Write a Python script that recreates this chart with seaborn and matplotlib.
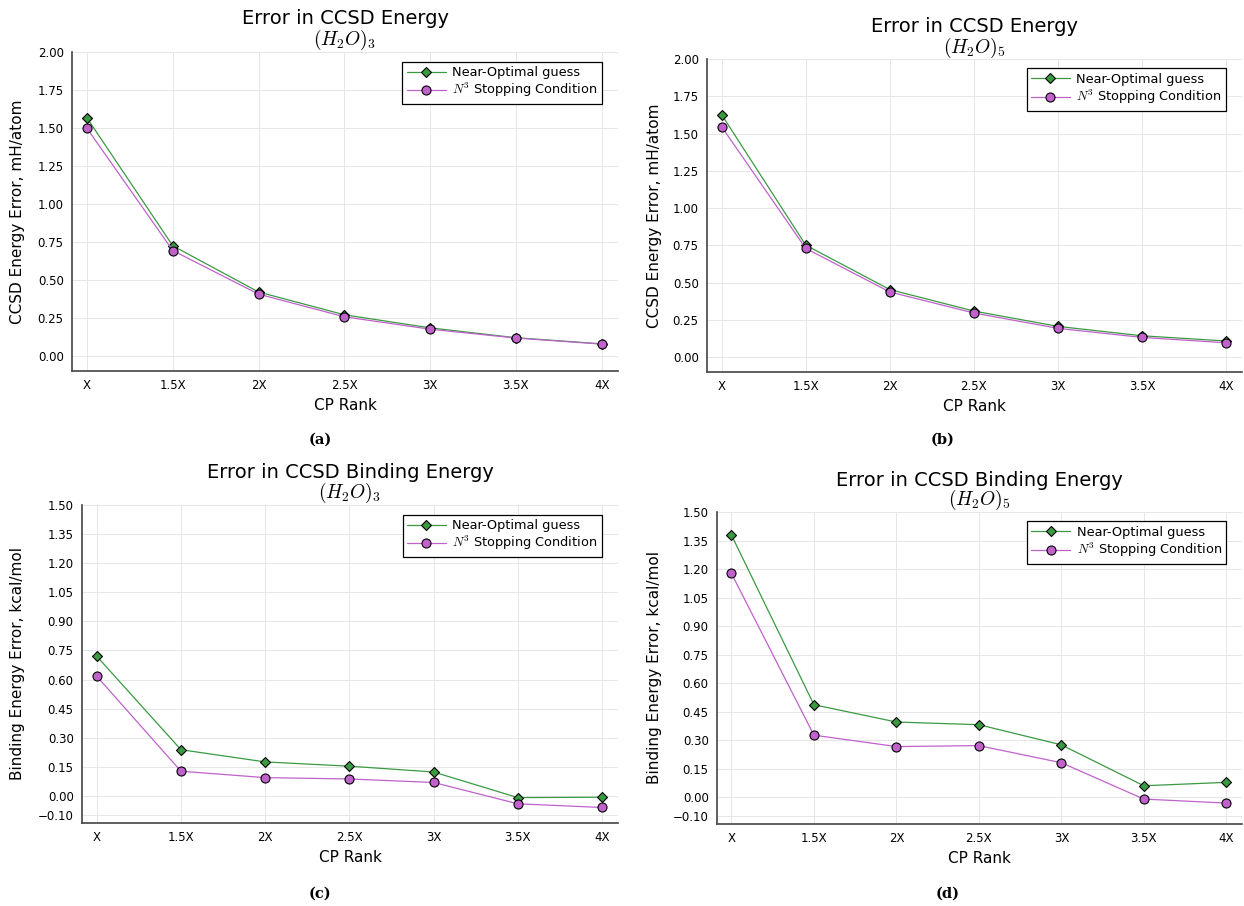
import matplotlib
matplotlib.use("Agg")
import matplotlib.pyplot as plt
import seaborn as sns
import pandas as pd
import numpy as np

# ---------------- data ----------------
cp_rank = ["X", "1.5X", "2X", "2.5X", "3X", "3.5X", "4X"]

energy3_near = [1.566, 0.724, 0.420, 0.270, 0.184, 0.119, 0.079]
energy3_n3   = [1.497, 0.693, 0.406, 0.257, 0.175, 0.117, 0.077]

energy5_near = [1.626, 0.751, 0.453, 0.309, 0.206, 0.143, 0.108]
energy5_n3   = [1.545, 0.729, 0.437, 0.296, 0.193, 0.132, 0.096]

bind3_near = [0.720, 0.238, 0.175, 0.153, 0.123, -0.009, -0.007]
bind3_n3   = [0.617, 0.127, 0.094, 0.087, 0.069, -0.041, -0.060]

bind5_near = [1.379, 0.487, 0.396, 0.382, 0.276, 0.061, 0.079]
bind5_n3   = [1.177, 0.327, 0.267, 0.272, 0.182, -0.009, -0.030]

label_near = "Near-Optimal guess"
label_n3 = r"$N^3$ Stopping Condition"

energy_ticks = [0.00, 0.25, 0.50, 0.75, 1.00, 1.25, 1.50, 1.75, 2.00]
bind_ticks = [-0.10, 0.00, 0.15, 0.30, 0.45, 0.60, 0.75, 0.90, 1.05, 1.20, 1.35, 1.50]

# ---------------- style ----------------
sns.set_style("white")
plt.rcParams['font.family'] = ['DejaVu Sans']
plt.rcParams['mathtext.fontset'] = 'cm'
plt.rcParams['text.color'] = 'black'
plt.rcParams['axes.labelcolor'] = 'black'

GREEN = "#3a9a42"
PURPLE = "#c061cc"

W, H = 1244, 906
fig = plt.figure(figsize=(W / 100, H / 100), dpi=100)


def px_axes(l, r, t, b):
    return fig.add_axes([l / W, 1 - b / H, (r - l) / W, (b - t) / H])


panels = [
    dict(box=(72, 618, 52, 371), near=energy3_near, n3=energy3_n3, ylim=(-0.1, 2.0),
         ticks=energy_ticks, fmt="{:.2f}", title="Error in CCSD Energy", sub=r"$(H_2O)_3$",
         ylabel="CCSD Energy Error, mH/atom", tpos=(18, 40), cap="(a)", cappos=(320, 440),
         ylx=18),
    dict(box=(707, 1242, 59, 372), near=energy5_near, n3=energy5_n3, ylim=(-0.1, 2.0),
         ticks=energy_ticks, fmt="{:.2f}", title="Error in CCSD Energy", sub=r"$(H_2O)_5$",
         ylabel="CCSD Energy Error, mH/atom", tpos=(27, 48), cap="(b)", cappos=(943, 440),
         ylx=655),
    dict(box=(82, 618, 505, 823), near=bind3_near, n3=bind3_n3, ylim=(-0.14, 1.5),
         ticks=bind_ticks, fmt="{:.2f}", title="Error in CCSD Binding Energy", sub=r"$(H_2O)_3$",
         ylabel="Binding Energy Error, kcal/mol", tpos=(472, 493), cap="(c)", cappos=(320, 894),
         ylx=18),
    dict(box=(717, 1242, 512, 824), near=bind5_near, n3=bind5_n3, ylim=(-0.14, 1.5),
         ticks=bind_ticks, fmt="{:.2f}", title="Error in CCSD Binding Energy", sub=r"$(H_2O)_5$",
         ylabel="Binding Energy Error, kcal/mol", tpos=(480, 500), cap="(d)", cappos=(948, 894),
         ylx=655),
]

xpos = np.arange(len(cp_rank))

for p in panels:
    l, r, t, b = p["box"]
    ax = px_axes(l, r, t, b)
    df = pd.DataFrame({"x": np.concatenate([xpos, xpos]),
                       "y": list(p["near"]) + list(p["n3"]),
                       "series": [label_near] * len(xpos) + [label_n3] * len(xpos)})
    sns.lineplot(data=df[df.series == label_near], x="x", y="y", ax=ax, color=GREEN,
                 marker="D", markersize=5.5, markeredgecolor="black", markeredgewidth=0.8,
                 linewidth=0.9, label=label_near)
    sns.lineplot(data=df[df.series == label_n3], x="x", y="y", ax=ax, color=PURPLE,
                 marker="o", markersize=6.5, markeredgecolor="black", markeredgewidth=0.8,
                 linewidth=0.9, label=label_n3)

    ax.set_xlim(-0.175, 6.19)
    ax.set_ylim(*p["ylim"])
    ax.set_xticks(xpos)
    ax.set_xticklabels(cp_rank)
    ax.set_yticks(p["ticks"])
    ax.set_yticklabels([("\u2212" if v < 0 else "") + p["fmt"].format(abs(v)) for v in p["ticks"]])
    ax.tick_params(axis="both", direction="in", length=4, width=0.8, colors="#333333",
                   labelcolor="black", labelsize=8.5, pad=6)
    ax.grid(True, color="#e6e6e6", linewidth=0.7)
    ax.set_axisbelow(True)
    for s in ["top", "right"]:
        ax.spines[s].set_visible(False)
    for s in ["left", "bottom"]:
        ax.spines[s].set_color("#444444")
        ax.spines[s].set_linewidth(1.2)
    ax.set_xlabel("CP Rank", fontsize=11, labelpad=4, color="black")
    ax.set_ylabel("")
    fig.text(p["ylx"] / W, 1 - ((t + b) / 2) / H, p["ylabel"], rotation=90,
             ha="center", va="center", fontsize=11, color="black")

    cx = (l + r) / 2 / W
    fig.text(cx, 1 - p["tpos"][0] / H, p["title"], ha="center", va="center", fontsize=14,
             color="black")
    fig.text(cx, 1 - p["tpos"][1] / H, p["sub"], ha="center", va="center", fontsize=14,
             color="black")
    fig.text(p["cappos"][0] / W, 1 - p["cappos"][1] / H, p["cap"], ha="center", va="center",
             fontsize=10.5, fontweight="bold", family="DejaVu Serif", color="black")

    leg = ax.legend(loc="upper right", bbox_to_anchor=(0.97, 0.97), fontsize=9.3,
                    frameon=True, fancybox=False, framealpha=1, edgecolor="black",
                    borderpad=0.35, handlelength=3.0, labelspacing=0.15, handletextpad=0.5,
                    borderaxespad=0)
    leg.get_frame().set_linewidth(0.9)
    for txt in leg.get_texts():
        txt.set_color("black")

fig.savefig("out.png", dpi=100)
